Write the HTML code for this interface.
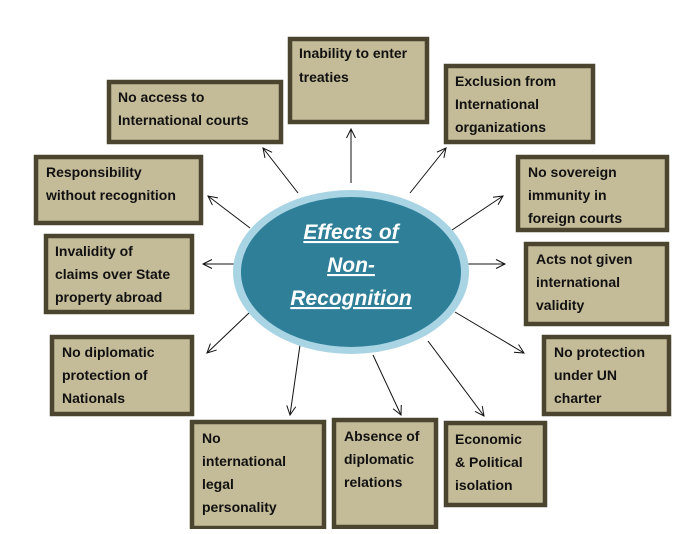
<!DOCTYPE html>
<html><head><style>
html,body{margin:0;padding:0;background:#fff;}
.b{fill:#c4bb98;stroke:#4b452f;stroke-width:4.5;}
.t{font-family:"Liberation Sans",Arial,sans-serif;font-weight:bold;font-size:14px;fill:#111;}
.a{stroke:#111;stroke-width:1;fill:none;}
</style></head><body>
<svg width="696" height="529" viewBox="0 0 696 529" xmlns="http://www.w3.org/2000/svg">
<defs><marker id="m" markerWidth="12" markerHeight="12" refX="10" refY="5" orient="auto" markerUnits="userSpaceOnUse"><path d="M1,0.5 L10,5 L1,9.5" fill="none" stroke="#111" stroke-width="1"/></marker></defs>
<g class="a">
<line x1="351" y1="183" x2="351" y2="129" marker-end="url(#m)"/>
<line x1="298" y1="193" x2="263" y2="148" marker-end="url(#m)"/>
<line x1="250" y1="228" x2="208" y2="196" marker-end="url(#m)"/>
<line x1="238" y1="264" x2="203" y2="264" marker-end="url(#m)"/>
<line x1="250" y1="312" x2="207" y2="353" marker-end="url(#m)"/>
<line x1="300" y1="345" x2="290" y2="415" marker-end="url(#m)"/>
<line x1="373" y1="355" x2="401" y2="415" marker-end="url(#m)"/>
<line x1="428" y1="341" x2="484" y2="416" marker-end="url(#m)"/>
<line x1="455" y1="312" x2="524" y2="353" marker-end="url(#m)"/>
<line x1="465" y1="264" x2="505" y2="264" marker-end="url(#m)"/>
<line x1="452" y1="230" x2="503" y2="196" marker-end="url(#m)"/>
<line x1="410" y1="193" x2="446" y2="148" marker-end="url(#m)"/>
</g>
<ellipse cx="351" cy="272" rx="118" ry="82" fill="#a8d4e4"/>
<ellipse cx="351" cy="272" rx="110" ry="75" fill="#2f7f99"/>
<g font-family="Liberation Sans,Arial,sans-serif" font-style="italic" font-weight="bold" font-size="21" fill="#fff" text-anchor="middle" text-decoration="underline">
<text x="351" y="239">Effects of</text>
<text x="351" y="272">Non-</text>
<text x="351" y="305">Recognition</text>
</g>
<rect class="b" x="290" y="39" width="137" height="83"/>
<text class="t"><tspan x="299" y="58">Inability to enter</tspan><tspan x="299" y="82">treaties</tspan></text>
<rect class="b" x="109" y="82" width="172" height="60"/>
<text class="t"><tspan x="118" y="102">No access to</tspan><tspan x="118" y="125">International courts</tspan></text>
<rect class="b" x="446" y="66" width="147" height="76"/>
<text class="t"><tspan x="455" y="86">Exclusion from</tspan><tspan x="455" y="109">International</tspan><tspan x="455" y="132">organizations</tspan></text>
<rect class="b" x="36" y="157" width="165" height="66"/>
<text class="t"><tspan x="46" y="177">Responsibility</tspan><tspan x="46" y="200">without recognition</tspan></text>
<rect class="b" x="518" y="157" width="149" height="73"/>
<svg x="518" y="157" width="149" height="71"><text class="t"><tspan x="10" y="20">No sovereign</tspan><tspan x="10" y="43">immunity in</tspan><tspan x="10" y="66">foreign courts</tspan></text></svg>
<rect class="b" x="46" y="236" width="146" height="76"/>
<text class="t"><tspan x="55" y="256">Invalidity of</tspan><tspan x="55" y="279">claims over State</tspan><tspan x="55" y="302">property abroad</tspan></text>
<rect class="b" x="526" y="244" width="141" height="80"/>
<text class="t"><tspan x="536" y="264">Acts not given</tspan><tspan x="536" y="287">international</tspan><tspan x="536" y="310">validity</tspan></text>
<rect class="b" x="52" y="337" width="140" height="77"/>
<text class="t"><tspan x="62" y="357">No diplomatic</tspan><tspan x="62" y="380">protection of</tspan><tspan x="62" y="403">Nationals</tspan></text>
<rect class="b" x="544" y="337" width="125" height="77"/>
<text class="t"><tspan x="554" y="357">No protection</tspan><tspan x="554" y="380">under UN</tspan><tspan x="554" y="403">charter</tspan></text>
<rect class="b" x="192" y="422" width="132" height="106"/>
<text class="t"><tspan x="202" y="443">No</tspan><tspan x="202" y="466">international</tspan><tspan x="202" y="489">legal</tspan><tspan x="202" y="512">personality</tspan></text>
<rect class="b" x="334" y="420" width="102" height="107"/>
<text class="t"><tspan x="344" y="441">Absence of</tspan><tspan x="344" y="464">diplomatic</tspan><tspan x="344" y="487">relations</tspan></text>
<rect class="b" x="446" y="423" width="99" height="82"/>
<text class="t"><tspan x="455" y="444">Economic</tspan><tspan x="455" y="467">&amp; Political</tspan><tspan x="455" y="490">isolation</tspan></text>
</svg>
</body></html>
